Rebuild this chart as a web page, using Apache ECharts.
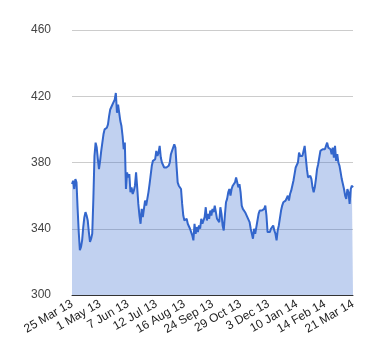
<!DOCTYPE html>
<html>
<head>
<meta charset="utf-8">
<script src="https://cdn.jsdelivr.net/npm/echarts@6/dist/echarts.min.js"></script>
<style>
html,body{margin:0;padding:0;background:#fff;}
#chart{width:380px;height:360px;}
</style>
</head>
<body>
<div id="chart"></div>
<script>
// Tick labels shown every 25 trading days
const tickLabels = ["25 Mar 13","1 May 13","7 Jun 13","12 Jul 13","16 Aug 13","24 Sep 13","29 Oct 13","3 Dec 13","10 Jan 14","14 Feb 14","21 Mar 14"];
// Daily closing values
const values = [
367,369,364,370,368,352,338,327,329,333,
341,347,350,348,345,338,332,334,337,358,
384,392,389,382,376,381,387,392,397,400,
401,401,403,408,412,413,415,416,418,422,
410,415,415,405,402,396,388,392,364,374,
371,373,362,365,361,363,366,374,365,355,
348,343,352,347,348,357,354,353,362,367,
367,378,381,380,382,387,384,386,390,383,
380,379,377,378,377,376,378,380,385,387,
388,391,389,378,368,366,366,364,355,348,
345,344,346,343,342,340,338,336,333,343,
337,341,338,342,340,346,343,344,347,353,
345,349,346,351,348,352,350,354,350,346,
347,344,353,349,342,339,348,356,358,362,
364,360,364,366,365,368,371,372,365,367,
362,354,352,353,350,351,347,348,344,340,
337,334,340,337,341,345,349,351,352,351,
351,352,354,348,338,339,338,340,341,342,
339,337,333,339,342,341,351,354,356,356,
357,358,360,357,361,363,366,369,373,377,
378,380,386,384,385,384,383,390,383,376,
371,372,372,370,365,362,365,370,376,379,
383,387,387,388,389,388,390,392,389,390,
388,385,389,383,390,381,385,380,378,374,
370,367,364,360,358,364,362,355,364,366,
365
];
const labelEvery = 25;
const categories = values.map((v, i) => String(i));

const chart = echarts.init(document.getElementById('chart'), null, {renderer: 'canvas'});
chart.setOption({
  animation: false,
  grid: {left: 72, right: 27, top: 30, bottom: 65, containLabel: false},
  xAxis: {
    type: 'category',
    data: categories,
    boundaryGap: false,
    axisLine: {show: true, lineStyle: {color: '#333', width: 1}},
    axisTick: {show: false},
    splitLine: {show: false},
    axisLabel: {
      interval: labelEvery - 1,
      rotate: 30,
      margin: 8,
      fontFamily: 'Liberation Sans, Arial, sans-serif',
      fontSize: 12,
      color: '#222',
      formatter: function (val) {
        const k = Math.round(Number(val) / labelEvery);
        return tickLabels[k] || '';
      }
    }
  },
  yAxis: {
    type: 'value',
    min: 300,
    max: 460,
    interval: 40,
    axisLine: {show: false},
    axisTick: {show: false},
    splitLine: {lineStyle: {color: '#cccccc', width: 1}},
    axisLabel: {
      margin: 21,
      fontFamily: 'Liberation Sans, Arial, sans-serif',
      fontSize: 12,
      color: '#444'
    }
  },
  series: [{
    type: 'line',
    data: values,
    symbol: 'none',
    smooth: false,
    lineStyle: {color: '#3366cc', width: 2},
    areaStyle: {color: 'rgba(51,102,204,0.3)', opacity: 1},
    itemStyle: {color: '#3366cc'}
  }]
});
</script>
</body>
</html>
